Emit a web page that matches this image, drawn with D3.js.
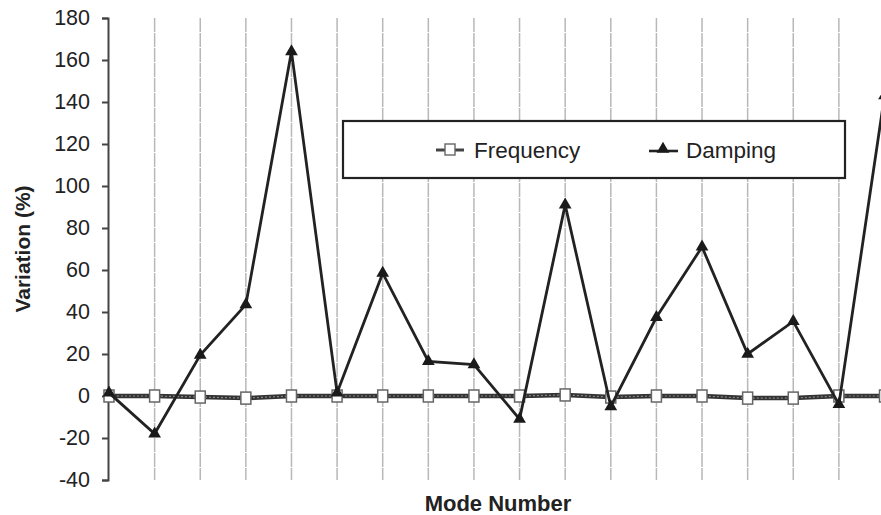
<!DOCTYPE html>
<html lang="en">
<head>
<meta charset="UTF-8">
<title>Variation by mode</title>
<style>
  body { margin: 0; background: #fff; }
  svg { display: block; font-family: "Liberation Sans", Arial, sans-serif; }
</style>
</head>
<body>
<script src="https://cdn.jsdelivr.net/npm/d3@7"></script>
<script>
// mode numbers along x (no tick labels shown in the figure)
var modes = [1, 2, 3, 4, 5, 6, 7, 8, 9, 10, 11, 12, 13, 14, 15, 16, 17, 18];
var frequency = [0, 0, -0.5, -1, 0, 0, 0, 0, 0, 0, 0.5, -0.5, 0, 0, -1, -1, 0, 0];
var damping = [1.5, -18, 19.5, 43.5, 164, 1.5, 58.5, 16.5, 15, -11, 91, -5, 37.5, 71, 20, 35.5, -4, 143];
var yTicks = [-40, -20, 0, 20, 40, 60, 80, 100, 120, 140, 160, 180];

var w = 881, h = 515;
var svg = d3.select("body").append("svg")
    .attr("width", w)
    .attr("height", h);

var x = d3.scaleLinear().domain([1, 18]).range([109, 884.5]);
var y = d3.scaleLinear().domain([-40, 180]).range([480, 18]);

// vertical gridlines at every mode after the first
svg.append("g").selectAll("line")
    .data(modes.slice(1))
    .enter().append("line")
    .attr("x1", function(d) { return x(d); })
    .attr("x2", function(d) { return x(d); })
    .attr("y1", y(180))
    .attr("y2", y(-40))
    .attr("stroke", "#b8b8b8")
    .attr("stroke-width", 1.5)
    .attr("stroke-dasharray", "14,1");

// y axis
var yAxis = d3.axisLeft(y)
    .tickValues(yTicks)
    .tickSize(6)
    .tickPadding(12)
    .tickFormat(function(d) { return String(d); });
var gy = svg.append("g")
    .attr("transform", "translate(108,0)")
    .call(yAxis);
gy.select(".domain").attr("stroke", "#444").attr("stroke-width", 2);
gy.selectAll(".tick line").attr("stroke", "#444").attr("stroke-width", 2);
gy.selectAll(".tick text")
    .attr("font-size", "21.5px")
    .attr("fill", "#222")
    .attr("font-family", "Liberation Sans, Arial, sans-serif");

// axis titles
svg.append("text")
    .attr("transform", "translate(30,249) rotate(-90)")
    .attr("text-anchor", "middle")
    .attr("font-size", "21px")
    .attr("font-weight", "bold")
    .attr("fill", "#222")
    .text("Variation (%)");

svg.append("text")
    .attr("x", 498)
    .attr("y", 511)
    .attr("text-anchor", "middle")
    .attr("font-size", "22px")
    .attr("font-weight", "bold")
    .attr("fill", "#222")
    .text("Mode Number");

var line = d3.line()
    .x(function(d, i) { return x(modes[i]); })
    .y(function(d) { return y(d); });

// frequency series: thick dark line with a lighter dotted core
svg.append("path")
    .datum(frequency)
    .attr("d", line)
    .attr("fill", "none")
    .attr("stroke", "#333")
    .attr("stroke-width", 4.5);
svg.append("path")
    .datum(frequency)
    .attr("d", line)
    .attr("fill", "none")
    .attr("stroke", "#888")
    .attr("stroke-width", 1.2)
    .attr("stroke-dasharray", "2,2");

svg.append("g").selectAll("rect")
    .data(frequency)
    .enter().append("rect")
    .attr("x", function(d, i) { return x(modes[i]) - 5; })
    .attr("y", function(d) { return y(d) - 6; })
    .attr("width", 10)
    .attr("height", 12)
    .attr("fill", "#fff")
    .attr("stroke", "#666")
    .attr("stroke-width", 1.5);

// damping series
svg.append("path")
    .datum(damping)
    .attr("d", line)
    .attr("fill", "none")
    .attr("stroke", "#222")
    .attr("stroke-width", 2.8)
    .attr("stroke-linejoin", "miter");

var tri = d3.symbol().type(d3.symbolTriangle).size(70);
svg.append("g").selectAll("path")
    .data(damping)
    .enter().append("path")
    .attr("d", tri)
    .attr("transform", function(d, i) { return "translate(" + x(modes[i]) + "," + y(d) + ")"; })
    .attr("fill", "#1a1a1a");

// legend
var lg = svg.append("g");
lg.append("rect")
    .attr("x", 343).attr("y", 121)
    .attr("width", 502).attr("height", 57)
    .attr("fill", "#fff")
    .attr("stroke", "#222")
    .attr("stroke-width", 2.2);

lg.append("line")
    .attr("x1", 436).attr("x2", 464).attr("y1", 150).attr("y2", 150)
    .attr("stroke", "#444").attr("stroke-width", 3);
lg.append("rect")
    .attr("x", 445).attr("y", 144).attr("width", 10).attr("height", 11)
    .attr("fill", "#fff").attr("stroke", "#666").attr("stroke-width", 1.4);
lg.append("text")
    .attr("x", 474).attr("y", 158)
    .attr("font-size", "22.5px").attr("fill", "#222")
    .text("Frequency");

lg.append("line")
    .attr("x1", 649).attr("x2", 678).attr("y1", 151).attr("y2", 151)
    .attr("stroke", "#222").attr("stroke-width", 2.6);
lg.append("path")
    .attr("d", tri)
    .attr("transform", "translate(663,149)")
    .attr("fill", "#1a1a1a");
lg.append("text")
    .attr("x", 686).attr("y", 158)
    .attr("font-size", "22.5px").attr("fill", "#222")
    .text("Damping");
</script>
</body>
</html>
